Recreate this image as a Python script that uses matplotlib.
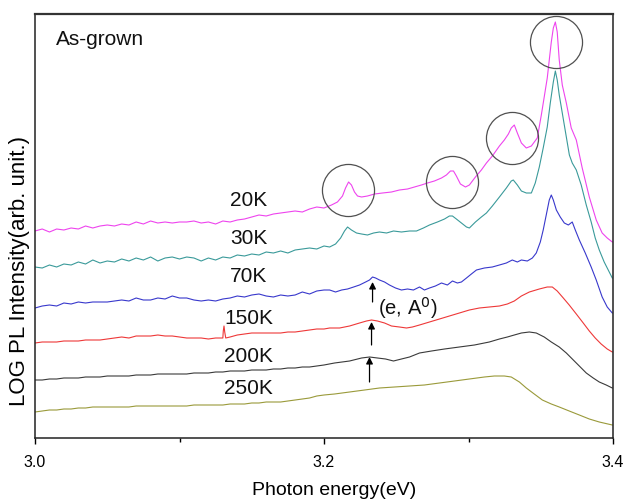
import numpy as np
import matplotlib
matplotlib.use("Agg")
import matplotlib.pyplot as plt
from matplotlib.ticker import MultipleLocator

plt.rcParams['font.family'] = ['Liberation Sans', 'DejaVu Sans']

# ---------------- data (photon energy in eV, log PL intensity in arb. units) -------------
E_BASE = [3.000, 3.005, 3.010, 3.015, 3.020, 3.025, 3.030, 3.035, 3.040, 3.045,
          3.050, 3.055, 3.060, 3.065, 3.070, 3.075, 3.080, 3.085, 3.090, 3.095,
          3.100, 3.105, 3.110, 3.115, 3.120, 3.125, 3.130, 3.135, 3.140, 3.145,
          3.150, 3.155, 3.160, 3.165, 3.170, 3.175, 3.180, 3.185, 3.190, 3.195,
          3.200]

I_20K_BASE = [2.07, 2.09, 2.06, 2.09, 2.08, 2.10, 2.09, 2.12, 2.10, 2.12,
              2.13, 2.12, 2.14, 2.13, 2.16, 2.14, 2.17, 2.15, 2.16, 2.15,
              2.16, 2.16, 2.17, 2.15, 2.16, 2.14, 2.17, 2.16, 2.18, 2.19,
              2.21, 2.23, 2.22, 2.24, 2.25, 2.26, 2.27, 2.26, 2.29, 2.31,
              2.30]
I_30K_BASE = [1.71, 1.70, 1.73, 1.71, 1.74, 1.73, 1.76, 1.74, 1.78, 1.75,
              1.77, 1.76, 1.79, 1.77, 1.80, 1.78, 1.81, 1.77, 1.80, 1.81,
              1.79, 1.81, 1.80, 1.77, 1.80, 1.78, 1.81, 1.80, 1.83, 1.82,
              1.84, 1.83, 1.86, 1.85, 1.87, 1.85, 1.88, 1.89, 1.90, 1.89,
              1.92]
I_70K_BASE = [1.30, 1.32, 1.33, 1.32, 1.35, 1.34, 1.36, 1.35, 1.36, 1.36,
              1.36, 1.37, 1.38, 1.37, 1.40, 1.38, 1.38, 1.40, 1.39, 1.42,
              1.40, 1.40, 1.38, 1.37, 1.38, 1.37, 1.39, 1.40, 1.42, 1.41,
              1.43, 1.44, 1.42, 1.41, 1.43, 1.42, 1.43, 1.46, 1.44, 1.47,
              1.48]
I_150K_BASE = [0.95, 0.96, 0.96, 0.96, 0.97, 0.97, 0.97, 0.98, 0.98, 0.98,
               0.99, 1.00, 1.01, 1.00, 1.02, 1.02, 1.02, 1.03, 1.02, 1.02,
               1.01, 1.00, 1.00, 1.00, 0.99, 1.00, 1.00, 1.01, 1.03, 1.04,
               1.05, 1.05, 1.05, 1.05, 1.05, 1.06, 1.06, 1.07, 1.08, 1.09,
               1.09]
I_200K_BASE = [0.58, 0.58, 0.59, 0.59, 0.60, 0.60, 0.60, 0.61, 0.61, 0.61,
               0.62, 0.62, 0.62, 0.62, 0.63, 0.63, 0.63, 0.64, 0.64, 0.64,
               0.64, 0.64, 0.65, 0.65, 0.65, 0.66, 0.66, 0.67, 0.67, 0.67,
               0.68, 0.68, 0.68, 0.69, 0.69, 0.70, 0.70, 0.71, 0.71, 0.72,
               0.73]
I_250K_BASE = [0.26, 0.27, 0.28, 0.28, 0.29, 0.29, 0.30, 0.30, 0.31, 0.31,
               0.31, 0.31, 0.31, 0.31, 0.32, 0.32, 0.32, 0.32, 0.32, 0.32,
               0.32, 0.32, 0.33, 0.33, 0.33, 0.33, 0.33, 0.34, 0.34, 0.34,
               0.35, 0.35, 0.36, 0.36, 0.36, 0.37, 0.38, 0.39, 0.40, 0.42,
               0.43]

E_20K_HI = [3.2052, 3.2093, 3.2128, 3.2149, 3.2170, 3.2190, 3.2211, 3.2232, 3.2260, 3.2301,
            3.2350, 3.2405, 3.2467, 3.2522, 3.2578, 3.2626, 3.2674, 3.2716, 3.2764, 3.2813,
            3.2847, 3.2875, 3.2896, 3.2916, 3.2944, 3.2979, 3.3006, 3.3048, 3.3089, 3.3124,
            3.3165, 3.3214, 3.3248, 3.3276, 3.3296, 3.3317, 3.3338, 3.3366, 3.3400, 3.3435,
            3.3476, 3.3504, 3.3524, 3.3545, 3.3559, 3.3573, 3.3587, 3.3601, 3.3614, 3.3628,
            3.3649, 3.3677, 3.3711, 3.3746, 3.3787, 3.3836, 3.3884, 3.3925, 3.3960, 3.3995]
I_20K_HI = [2.33, 2.36, 2.42, 2.50, 2.56, 2.53, 2.46, 2.42, 2.41, 2.42,
            2.44, 2.45, 2.46, 2.48, 2.49, 2.51, 2.53, 2.55, 2.57, 2.60,
            2.63, 2.67, 2.67, 2.62, 2.54, 2.51, 2.53, 2.61, 2.68, 2.75,
            2.82, 2.92, 2.98, 3.04, 3.10, 3.13, 3.05, 2.95, 2.90, 2.92,
            3.00, 3.23, 3.41, 3.60, 3.78, 3.96, 4.10, 4.16, 4.06, 3.78,
            3.53, 3.35, 3.10, 2.98, 2.70, 2.41, 2.18, 2.05, 2.00, 1.96]

E_30K_HI = [3.2039, 3.2080, 3.2115, 3.2142, 3.2163, 3.2190, 3.2225, 3.2260, 3.2301, 3.2343,
            3.2384, 3.2433, 3.2481, 3.2536, 3.2592, 3.2640, 3.2688, 3.2730, 3.2785, 3.2834,
            3.2868, 3.2889, 3.2916, 3.2951, 3.2986, 3.3006, 3.3048, 3.3089, 3.3124, 3.3165,
            3.3214, 3.3262, 3.3296, 3.3310, 3.3338, 3.3366, 3.3400, 3.3435, 3.3462, 3.3490,
            3.3517, 3.3545, 3.3566, 3.3587, 3.3601, 3.3614, 3.3628, 3.3649, 3.3677, 3.3698,
            3.3718, 3.3746, 3.3780, 3.3815, 3.3849, 3.3877, 3.3905, 3.3939, 3.3967, 3.3995]
I_30K_HI = [1.91, 1.94, 2.00, 2.07, 2.11, 2.08, 2.05, 2.04, 2.03, 2.05,
            2.06, 2.05, 2.07, 2.06, 2.07, 2.07, 2.10, 2.13, 2.16, 2.19,
            2.22, 2.22, 2.19, 2.15, 2.11, 2.10, 2.16, 2.21, 2.25, 2.32,
            2.41, 2.50, 2.57, 2.58, 2.53, 2.47, 2.45, 2.45, 2.55, 2.71,
            2.90, 3.11, 3.35, 3.56, 3.67, 3.58, 3.43, 3.25, 3.01, 2.83,
            2.75, 2.68, 2.53, 2.33, 2.16, 2.00, 1.88, 1.76, 1.68, 1.60]

E_70K_HI = [3.2039, 3.2080, 3.2122, 3.2163, 3.2205, 3.2246, 3.2288, 3.2315, 3.2336, 3.2357,
            3.2384, 3.2419, 3.2453, 3.2495, 3.2536, 3.2578, 3.2619, 3.2661, 3.2695, 3.2730,
            3.2771, 3.2813, 3.2854, 3.2889, 3.2923, 3.2951, 3.2986, 3.3020, 3.3055, 3.3110,
            3.3165, 3.3214, 3.3262, 3.3303, 3.3338, 3.3366, 3.3407, 3.3442, 3.3469, 3.3497,
            3.3517, 3.3538, 3.3559, 3.3573, 3.3587, 3.3608, 3.3635, 3.3663, 3.3691, 3.3718,
            3.3739, 3.3767, 3.3808, 3.3849, 3.3884, 3.3925, 3.3960, 3.3995]
I_70K_HI = [1.48, 1.46, 1.48, 1.49, 1.51, 1.53, 1.56, 1.58, 1.61, 1.60,
            1.58, 1.56, 1.53, 1.50, 1.48, 1.49, 1.48, 1.51, 1.48, 1.50,
            1.52, 1.55, 1.53, 1.57, 1.55, 1.56, 1.60, 1.64, 1.68, 1.70,
            1.71, 1.73, 1.75, 1.78, 1.76, 1.78, 1.77, 1.80, 1.85, 1.96,
            2.08, 2.23, 2.38, 2.43, 2.38, 2.28, 2.21, 2.15, 2.13, 2.16,
            2.08, 1.98, 1.85, 1.71, 1.58, 1.41, 1.31, 1.25]

E_150K_SPIKE = [3.1303, 3.1308, 3.1313, 3.1320]
I_150K_SPIKE = [1.07, 1.12, 1.06, 1.00]
E_150K_HI = [3.2039, 3.2108, 3.2177, 3.2246, 3.2294, 3.2329, 3.2370, 3.2419, 3.2467, 3.2522,
             3.2571, 3.2612, 3.2661, 3.2730, 3.2799, 3.2868, 3.2937, 3.3006, 3.3075, 3.3144,
             3.3214, 3.3269, 3.3317, 3.3366, 3.3421, 3.3490, 3.3545, 3.3580, 3.3614, 3.3656,
             3.3697, 3.3746, 3.3794, 3.3836, 3.3877, 3.3918, 3.3960, 3.3995]
I_150K_HI = [1.10, 1.10, 1.12, 1.15, 1.17, 1.18, 1.17, 1.15, 1.12, 1.11,
             1.10, 1.11, 1.13, 1.16, 1.19, 1.22, 1.25, 1.28, 1.30, 1.31,
             1.32, 1.34, 1.37, 1.42, 1.46, 1.49, 1.51, 1.51, 1.47, 1.40,
             1.33, 1.24, 1.15, 1.07, 1.00, 0.94, 0.89, 0.86]

E_200K_HI = [3.2073, 3.2177, 3.2260, 3.2315, 3.2370, 3.2426, 3.2481, 3.2536, 3.2592, 3.2661,
             3.2744, 3.2834, 3.2937, 3.3041, 3.3144, 3.3214, 3.3269, 3.3317, 3.3366, 3.3421,
             3.3469, 3.3524, 3.3573, 3.3628, 3.3677, 3.3746, 3.3815, 3.3863, 3.3905, 3.3953,
             3.3995]
I_200K_HI = [0.75, 0.77, 0.80, 0.81, 0.80, 0.79, 0.77, 0.79, 0.81, 0.85,
             0.87, 0.89, 0.91, 0.93, 0.96, 0.99, 1.01, 1.03, 1.05, 1.06,
             1.05, 1.01, 0.96, 0.91, 0.85, 0.75, 0.65, 0.60, 0.56, 0.53,
             0.50]

E_250K_HI = [3.2073, 3.2177, 3.2281, 3.2384, 3.2488, 3.2592, 3.2695, 3.2799, 3.2903, 3.3006,
             3.3110, 3.3179, 3.3248, 3.3296, 3.3352, 3.3400, 3.3455, 3.3511, 3.3573, 3.3628,
             3.3697, 3.3767, 3.3836, 3.3905, 3.3995]
I_250K_HI = [0.44, 0.46, 0.48, 0.50, 0.51, 0.52, 0.53, 0.55, 0.57, 0.59,
             0.61, 0.62, 0.62, 0.61, 0.56, 0.50, 0.44, 0.38, 0.34, 0.31,
             0.27, 0.23, 0.19, 0.16, 0.13]

LABELS = ["20K", "30K", "70K", "150K", "200K", "250K"]
LABEL_Y = [2.38, 2.00, 1.61, 1.20, 0.81, 0.49]
LABEL_E = 3.148

# circled features on the 20K spectrum (centre energy, centre intensity)
CIRCLE_E = [3.2163, 3.2889, 3.3303, 3.3608]
CIRCLE_I = [2.48, 2.56, 3.00, 3.96]

# (e, A0) arrows: energy, tail, tip
ARROW_E = [3.2336, 3.2329, 3.2315]
ARROW_TAIL = [1.36, 0.93, 0.56]
ARROW_TIP = [1.56, 1.16, 0.81]

COLORS = ["#EE44EE", "#3A9A9A", "#3838CC", "#EE3838", "#3A3A3A", "#9A9A3A"]


def series(parts_e, parts_i):
    e = np.concatenate([np.asarray(p, float) for p in parts_e])
    i = np.concatenate([np.asarray(p, float) for p in parts_i])
    order = np.argsort(e)
    return e[order], i[order]


curves = [
    series([E_BASE, E_20K_HI], [I_20K_BASE, I_20K_HI]),
    series([E_BASE, E_30K_HI], [I_30K_BASE, I_30K_HI]),
    series([E_BASE, E_70K_HI], [I_70K_BASE, I_70K_HI]),
    series([E_BASE, E_150K_SPIKE, E_150K_HI], [I_150K_BASE, I_150K_SPIKE, I_150K_HI]),
    series([E_BASE, E_200K_HI], [I_200K_BASE, I_200K_HI]),
    series([E_BASE, E_250K_HI], [I_250K_BASE, I_250K_HI]),
]

# ---------------- figure ----------------
fig = plt.figure(figsize=(6.26, 5.01), dpi=100)
ax = fig.add_axes([35 / 626, 63 / 501, 578 / 626, 424 / 501])

for (e, i), c in zip(curves, COLORS):
    ax.plot(e, i, color=c, lw=0.8, solid_joinstyle='round')

ax.plot(CIRCLE_E, CIRCLE_I, 'o', ms=37.5, mfc='none', mec='#505050', mew=0.9,
        linestyle='none')

for lab, y in zip(LABELS, LABEL_Y):
    ax.text(LABEL_E, y, lab, ha='center', va='center', fontsize=15, color='#111111')

for e, t0, t1 in zip(ARROW_E, ARROW_TAIL, ARROW_TIP):
    ax.annotate("", xy=(e, t1), xytext=(e, t0),
                arrowprops=dict(arrowstyle='-|>', color='black', lw=0.9,
                                mutation_scale=10, shrinkA=0, shrinkB=0))

ax.text(3.2372, 1.30, "(e, A$^{0}$)", ha='left', va='center', fontsize=14.5,
        color='#111111')
ax.text(0.036, 0.941, "As-grown", transform=ax.transAxes, ha='left', va='center',
        fontsize=15, color='#111111')

ax.set_xlim(3.0, 3.4)
ax.set_ylim(0, 4.24)
ax.xaxis.set_major_locator(MultipleLocator(0.2))
ax.xaxis.set_minor_locator(MultipleLocator(0.1))
ax.xaxis.set_major_formatter(plt.FormatStrFormatter('%.1f'))
ax.set_yticks([])
ax.tick_params(axis='x', which='major', direction='out', length=4.5, width=1.0,
               pad=7.5, labelsize=11.5)
ax.tick_params(axis='x', which='minor', direction='out', length=3, width=1.0)

for side, sp in ax.spines.items():
    sp.set_linewidth(1.1)
    sp.set_color('#222222')
ax.spines['top'].set_linewidth(1.6)
ax.spines['top'].set_color('#333333')

ax.set_xlabel("Photon energy(eV)", fontsize=14, va='center')
ax.xaxis.set_label_coords(0.517, -0.123)
ax.set_ylabel("LOG PL Intensity(arb. unit.)", fontsize=16, va='center')
ax.yaxis.set_label_coords(-0.026, 0.395)

fig.savefig("out.png", dpi=100)
